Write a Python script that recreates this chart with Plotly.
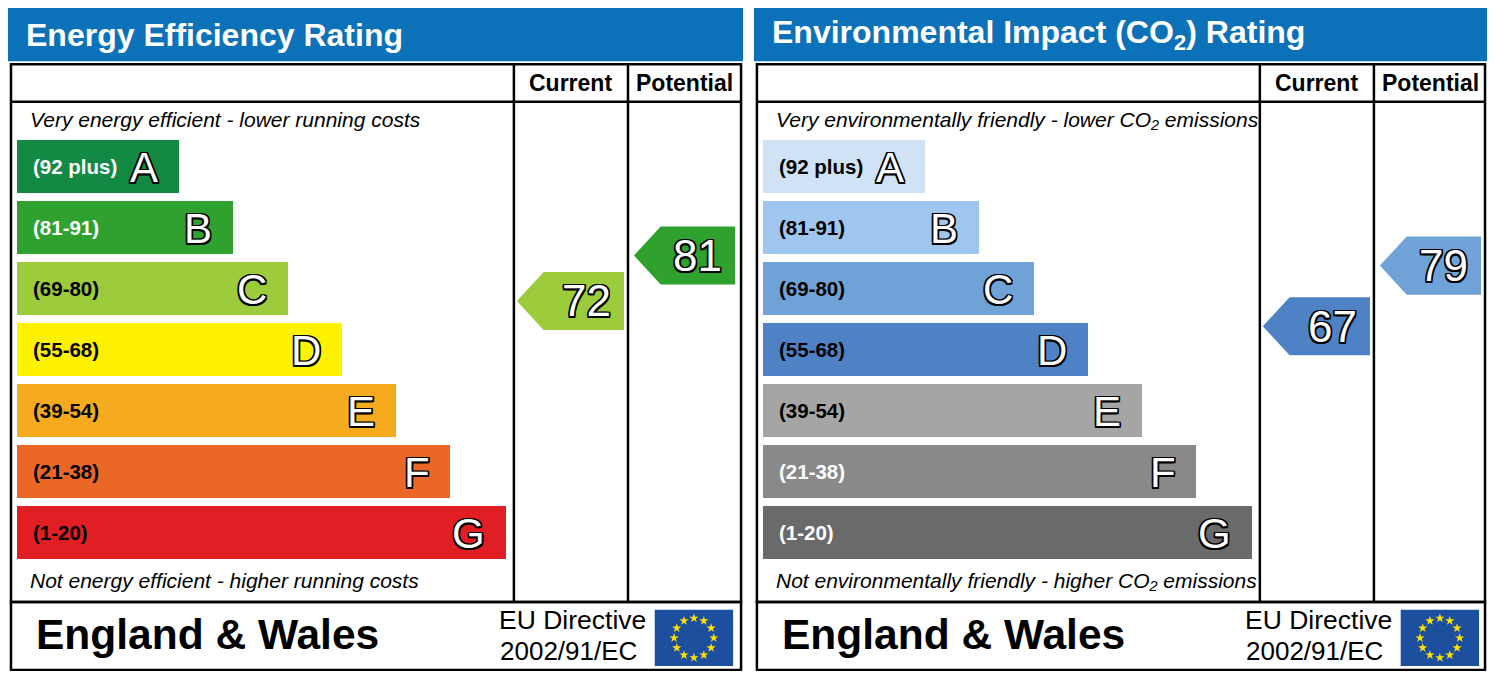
import math
import plotly.graph_objects as go

# rating bands (shared by both charts)
bands = ["A", "B", "C", "D", "E", "F", "G"]
band_ranges = ["(92 plus)", "(81-91)", "(69-80)", "(55-68)", "(39-54)", "(21-38)", "(1-20)"]
band_floor = [92, 81, 69, 55, 39, 21, 1]
bar_lengths = [163, 218, 273, 328, 382, 437, 493]

# energy efficiency chart
ee_colors = ["#138a43", "#2ea12f", "#9ccb3b", "#fff200", "#f6ab1f", "#eb6725", "#e21e25"]
ee_label_colors = ["white", "white", "black", "black", "black", "black", "black"]
ee_current = 72
ee_potential = 81

# environmental impact chart
ei_colors = ["#cfe2f6", "#9fc6ef", "#6fa3d8", "#4e82c4", "#a5a5a5", "#898989", "#6a6a6a"]
ei_label_colors = ["black", "black", "black", "black", "black", "white", "white"]
ei_current = 67
ei_potential = 79

HEADER_BLUE = "#0b71b8"
FONT = "Liberation Sans, Arial, sans-serif"
OUTLINE = ("-1.5px -1.5px 0 #000, 1.5px -1.5px 0 #000, -1.5px 1.5px 0 #000, "
           "1.5px 1.5px 0 #000, 0 1.5px 0 #000, 0 -1.5px 0 #000, 1.5px 0 0 #000, -1.5px 0 0 #000")

# the page body keeps an 8px margin on every side; fit the drawing inside it
PAGE_MARGIN = 8
X_LEFT, X_RIGHT = 4, 1495
Y_TOP, Y_BOTTOM = 4, 676

panels = [
    dict(off=0, title="Energy Efficiency Rating",
         top="Very energy efficient - lower running costs",
         bottom="Not energy efficient - higher running costs",
         colors=ee_colors, label_colors=ee_label_colors,
         current=ee_current, potential=ee_potential),
    dict(off=752, title="Environmental Impact (CO<sub>2</sub>) Rating",
         top="Very environmentally friendly - lower CO\u2082 emissions",
         bottom="Not environmentally friendly - higher CO\u2082 emissions",
         colors=ei_colors, label_colors=ei_label_colors,
         current=ei_current, potential=ei_potential),
]

fig = go.Figure()
shapes = []
annotations = []

band_y = [164.5 + 61.83 * i for i in range(len(bands))]


def band_color(rating, colors):
    for floor, c in zip(band_floor, colors):
        if rating >= floor:
            return c
    return colors[-1]


for p in panels:
    o = p["off"]
    right_edge = min(743 + o, 1493)
    # header
    shapes.append(dict(type="rect", x0=4 + o, x1=min(745 + o, 1495), y0=4, y1=58,
                       fillcolor=HEADER_BLUE, line=dict(width=0), layer="below"))
    annotations.append(dict(x=20 + o, y=31, text=p["title"], showarrow=False, xanchor="left",
                            font=dict(family=FONT, size=32, color="white", weight="bold")))
    # frame
    shapes.append(dict(type="rect", x0=7 + o, x1=right_edge, y0=61, y1=606,
                       line=dict(color="black", width=2.5)))
    shapes.append(dict(type="rect", x0=7 + o, x1=right_edge, y0=606, y1=675,
                       line=dict(color="black", width=2.5)))
    shapes.append(dict(type="line", x0=7 + o, x1=right_edge, y0=99, y1=99,
                       line=dict(color="black", width=2.5)))
    for cx in (514, 629):
        shapes.append(dict(type="line", x0=cx + o, x1=cx + o, y0=61, y1=606,
                           line=dict(color="black", width=2.5)))
    annotations.append(dict(x=571.5 + o, y=80, text="Current", showarrow=False,
                            font=dict(family=FONT, size=23, color="black", weight="bold")))
    annotations.append(dict(x=686 + o, y=80, text="Potential", showarrow=False,
                            font=dict(family=FONT, size=23, color="black", weight="bold")))
    annotations.append(dict(x=24 + o, y=117, text=p["top"], showarrow=False, xanchor="left",
                            font=dict(family=FONT, size=21, color="black", style="italic")))
    annotations.append(dict(x=24 + o, y=584, text=p["bottom"], showarrow=False, xanchor="left",
                            font=dict(family=FONT, size=21, color="black", style="italic")))

    # rating bands
    fig.add_trace(go.Bar(orientation="h", x=bar_lengths, y=band_y, base=13 + o, width=53,
                         marker=dict(color=p["colors"], line=dict(width=0)),
                         hoverinfo="skip", showlegend=False))
    for i, b in enumerate(bands):
        annotations.append(dict(x=27 + o, y=band_y[i], text=band_ranges[i], showarrow=False,
                                xanchor="left",
                                font=dict(family=FONT, size=20.5, color=p["label_colors"][i],
                                          weight="bold")))
        annotations.append(dict(x=13 + o + bar_lengths[i] - 19, y=band_y[i] + 1, text=b,
                                showarrow=False, xanchor="right",
                                font=dict(family=FONT, size=42, color="white", shadow=OUTLINE)))

    # current / potential arrows on the rating axis
    for rating, left, right in ((p["current"], 517 + o, 625 + o),
                                (p["potential"], 635 + o, 737 + o)):
        h = 5.75
        fig.add_trace(go.Scatter(
            x=[left, left + 27, right, right, left + 27, left],
            y=[rating, rating + h, rating + h, rating - h, rating - h, rating],
            yaxis="y2", mode="lines", fill="toself", line=dict(width=0),
            fillcolor=band_color(rating, p["colors"]), hoverinfo="skip", showlegend=False))
        annotations.append(dict(x=right - 11, y=rating, yref="y2", text=str(rating),
                                showarrow=False, xanchor="right",
                                font=dict(family=FONT, size=44, color="white", shadow=OUTLINE)))

    # footer
    annotations.append(dict(x=30 + o, y=639, text="England & Wales", showarrow=False,
                            xanchor="left",
                            font=dict(family=FONT, size=42.5, color="black", weight="bold")))
    annotations.append(dict(x=649 + o, y=624, text="EU Directive", showarrow=False,
                            xanchor="right", font=dict(family=FONT, size=26.5, color="black")))
    annotations.append(dict(x=640 + o, y=656, text="2002/91/EC", showarrow=False,
                            xanchor="right", font=dict(family=FONT, size=26, color="black")))
    shapes.append(dict(type="rect", x0=656 + o, x1=735 + o, y0=614, y1=671,
                       fillcolor="#1d4f9f", line=dict(width=0), layer="below"))
    sx = [695.5 + o + 20 * math.cos(2 * math.pi * k / 12) for k in range(12)]
    sy = [642.5 + 20 * math.sin(2 * math.pi * k / 12) for k in range(12)]
    fig.add_trace(go.Scatter(x=sx, y=sy, mode="markers",
                             marker=dict(symbol="star", size=7, color="#ffe100", line=dict(width=0)),
                             hoverinfo="skip", showlegend=False))

fig.update_layout(
    width=1495 - 2 * PAGE_MARGIN, height=679 - 2 * PAGE_MARGIN,
    margin=dict(l=0, r=0, t=0, b=0),
    paper_bgcolor="white", plot_bgcolor="white",
    barmode="overlay", bargap=0,
    shapes=shapes, annotations=annotations,
    xaxis=dict(range=[X_LEFT, X_RIGHT], visible=False, fixedrange=True),
    yaxis=dict(range=[Y_BOTTOM, Y_TOP], visible=False, fixedrange=True),
    # rating scale: pixel y = 669.6 - 5.12 * rating
    yaxis2=dict(range=[(669.6 - Y_BOTTOM) / 5.12, (669.6 - Y_TOP) / 5.12], overlaying="y",
                visible=False, fixedrange=True),
    showlegend=False,
)

fig.write_html("out.html")
